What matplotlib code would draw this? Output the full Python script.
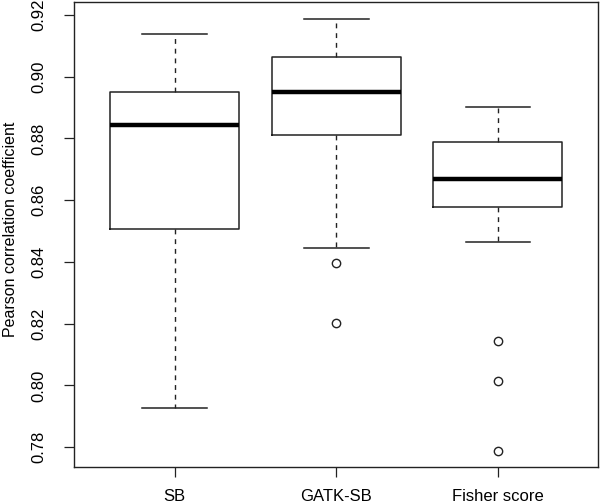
import matplotlib
matplotlib.use("Agg")
import matplotlib.pyplot as plt

plt.rcParams['font.family'] = ['Liberation Sans', 'DejaVu Sans']

categories = ["SB", "GATK-SB", "Fisher score"]
whislo = [0.7927, 0.8445, 0.8464]
q1 = [0.8508, 0.8812, 0.8578]
med = [0.8845, 0.8950, 0.8669]
q3 = [0.8951, 0.9065, 0.8790]
whishi = [0.9137, 0.9186, 0.8902]
fliers = [[], [0.8397, 0.8202], [0.8143, 0.8015, 0.7789]]
yticks = [0.78, 0.80, 0.82, 0.84, 0.86, 0.88, 0.90, 0.92]

stats = []
for i, c in enumerate(categories):
    stats.append(dict(label=c, whislo=whislo[i], q1=q1[i], med=med[i],
                      q3=q3[i], whishi=whishi[i], fliers=fliers[i]))

fig = plt.figure(figsize=(6, 5.04), dpi=100)
ax = fig.add_axes([74/600, 37/504, (598-74)/600, (467-2.3)/504])

lc = '#222222'
ax.bxp(stats, positions=[1, 2, 3], widths=0.8, showfliers=True,
       boxprops=dict(color=lc, linewidth=1.1),
       whiskerprops=dict(color=lc, linewidth=1.0, linestyle=(0, (3.5, 3.5))),
       capprops=dict(color=lc, linewidth=1.1),
       capwidths=0.4,
       medianprops=dict(color='black', linewidth=3.2),
       flierprops=dict(marker='o', markerfacecolor='none', markeredgecolor=lc,
                       markersize=6, markeredgewidth=1.0))

ax.set_xlim(0.377, 3.62)
ax.set_ylim(0.7736, 0.9241)
ax.set_yticks(yticks)
ax.set_yticklabels([f"{v:.2f}" for v in yticks], rotation=90, va='center')
ax.set_xticks([1, 2, 3])
ax.set_xticklabels(categories)
ax.tick_params(axis='both', labelsize=12, length=7, width=0.9, color=lc)
ax.tick_params(axis='y', pad=13)
ax.tick_params(axis='x', pad=9)
for s in ax.spines.values():
    s.set_color(lc)
    s.set_linewidth(1.0)
ax.set_ylabel("Pearson correlation coefficient", fontsize=11.5)
ax.yaxis.set_label_coords(-0.106, 0.512)

fig.savefig("out.png", dpi=100)
